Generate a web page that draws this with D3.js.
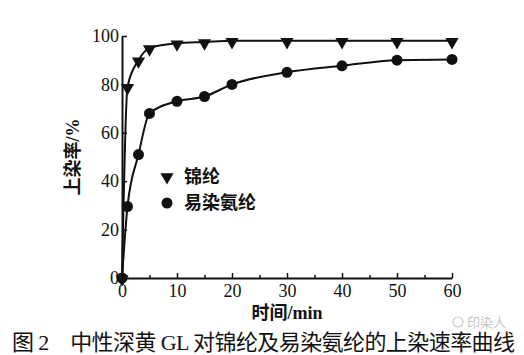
<!DOCTYPE html>
<html>
<head>
<meta charset="utf-8">
<script src="https://cdn.jsdelivr.net/npm/d3@7"></script>
<style>
  body { margin: 0; background: #fff; }
  svg { display: block; }
  .tick text { font-family: "Liberation Serif", "DejaVu Serif", serif; font-size: 18px; fill: #111; }
</style>
</head>
<body>
<svg id="chart" width="524" height="355"></svg>
<script>
// Sampling times (min) and dye uptake (%).
const times = [0, 1, 3, 5, 10, 15, 20, 30, 40, 50, 60];
const nylon = [0, 79, 90, 95, 97, 97.5, 98, 98, 98, 98, 98];
const spandex = [0, 29.5, 51, 68, 73, 75, 80, 85, 87.7, 90, 90.3];
const xTicks = [0, 10, 20, 30, 40, 50, 60];
const xMinorTicks = [5, 15, 25, 35, 45, 55];
const yTicks = [0, 20, 40, 60, 80, 100];
const seriesNames = ["锦纶", "易染氨纶"];

const svg = d3.select("#chart");
const cjk = "'Liberation Serif', 'Noto Sans CJK SC', serif";

const x = d3.scaleLinear().domain([0, 60]).range([122, 452]);
const y = d3.scaleLinear().domain([0, 100]).range([278, 36]);

// Axes with inward ticks.
const xAxis = svg.append("g")
  .attr("transform", `translate(0,${y(0)})`)
  .call(d3.axisBottom(x).tickValues(xTicks).tickSize(-5).tickSizeOuter(0).tickPadding(8));
svg.append("g")
  .attr("transform", `translate(0,${y(0)})`)
  .call(d3.axisBottom(x).tickValues(xMinorTicks).tickSize(-3).tickSizeOuter(0).tickFormat(""))
  .select(".domain").remove();
svg.append("g")
  .attr("transform", `translate(${x(0)},0)`)
  .call(d3.axisLeft(y).tickValues(yTicks).tickSize(-5).tickSizeOuter(0).tickPadding(3));

svg.selectAll(".domain").attr("stroke", "#111").attr("stroke-width", 2);
svg.selectAll(".tick line").attr("stroke", "#111").attr("stroke-width", 1.5);
xAxis.selectAll(".tick text").attr("dy", "0.6em");

// Curves.
const line = d3.line().x((d, i) => x(times[i])).y((d) => y(d)).curve(d3.curveMonotoneX);
[nylon, spandex].forEach((vals) => {
  svg.append("path")
    .datum(vals)
    .attr("fill", "none")
    .attr("stroke", "#111")
    .attr("stroke-width", 2)
    .attr("d", line);
});

// Markers.
const tri = d3.symbol().type(d3.symbolTriangle).size(75);
svg.append("g").selectAll("path")
  .data(nylon)
  .join("path")
  .attr("d", tri)
  .attr("fill", "#111")
  .attr("transform", (d, i) => `translate(${x(times[i])},${y(d) + 1}) rotate(180)`);
svg.append("g").selectAll("circle")
  .data(spandex)
  .join("circle")
  .attr("cx", (d, i) => x(times[i]))
  .attr("cy", (d) => y(d))
  .attr("r", 5.5)
  .attr("fill", "#111");

// Legend.
const legend = svg.append("g").attr("transform", "translate(167,177)");
legend.append("path").attr("d", tri).attr("fill", "#111").attr("transform", "rotate(180)");
legend.append("circle").attr("cx", 0).attr("cy", 26).attr("r", 5.5).attr("fill", "#111");
legend.selectAll("text")
  .data(seriesNames)
  .join("text")
  .attr("x", 17)
  .attr("y", (d, i) => i * 26)
  .attr("dy", "0.36em")
  .attr("font-family", cjk)
  .attr("font-size", 18)
  .attr("font-weight", 600)
  .attr("fill", "#111")
  .text((d) => d);

// Axis titles.
svg.append("text")
  .attr("transform", "translate(73,157) rotate(-90)")
  .attr("text-anchor", "middle")
  .attr("dy", "0.36em")
  .attr("font-family", cjk)
  .attr("font-size", 18)
  .attr("font-weight", 600)
  .attr("fill", "#111")
  .text("上染率/%");
svg.append("text")
  .attr("x", 287)
  .attr("y", 313)
  .attr("text-anchor", "middle")
  .attr("dy", "0.36em")
  .attr("font-family", cjk)
  .attr("font-size", 18)
  .attr("font-weight", 600)
  .attr("fill", "#111")
  .text("时间/min");

// Caption.
svg.append("text")
  .attr("x", 12)
  .attr("y", 342)
  .attr("dy", "0.36em")
  .attr("font-family", cjk)
  .attr("font-size", 22)
  .attr("fill", "#111")
  .attr("xml:space", "preserve")
  .attr("textLength", 503)
  .attr("lengthAdjust", "spacing")
  .text("图 2　中性深黄 GL 对锦纶及易染氨纶的上染速率曲线");

// Watermark (kept just above the caption so the texts do not collide).
svg.append("circle")
  .attr("cx", 458).attr("cy", 322).attr("r", 5)
  .attr("fill", "none").attr("stroke", "#ccc").attr("stroke-width", 1.2);
svg.append("text")
  .attr("x", 467)
  .attr("y", 327)
  .attr("font-family", "'Noto Sans CJK SC', sans-serif")
  .attr("font-size", 13)
  .attr("fill", "#c4c4c4")
  .text("印染人");
</script>
</body>
</html>
